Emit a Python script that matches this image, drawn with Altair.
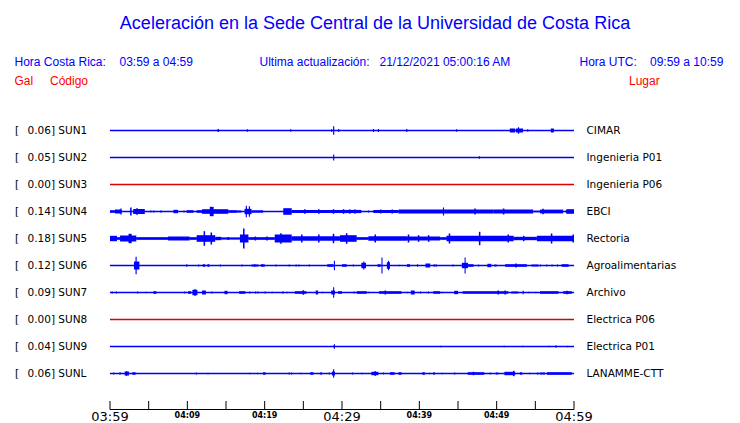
import altair as alt
import pandas as pd

# ---------------- data ----------------
CODES = ["SUN1", "SUN2", "SUN3", "SUN4", "SUN5", "SUN6", "SUN7", "SUN8", "SUN9", "SUNL"]
PLACES = ["CIMAR", "Ingenieria P01", "Ingenieria P06", "EBCI", "Rectoria",
          "Agroalimentarias", "Archivo", "Electrica P06", "Electrica P01", "LANAMME-CTT"]
PEAK_GAL = [0.06, 0.05, 0.00, 0.14, 0.18, 0.12, 0.09, 0.00, 0.04, 0.06]

# signal bursts: (start minute, end minute, half-amplitude in trace display units)
SUN1 = [(13.9, 14.1, 1.5), (17.7, 17.8, 1.2), (23.3, 23.4, 1.2), (28.6, 28.7, 1.5),
        (28.85, 29.0, 4.3), (29.5, 29.6, 1.5), (34.0, 34.1, 1.5), (34.65, 34.75, 1.5),
        (38.3, 38.45, 1.5), (44.75, 44.85, 1.2), (51.7, 52.4, 2.0), (52.5, 53.4, 2.0),
        (52.75, 52.9, 3.3), (53.95, 54.05, 1.2), (57.0, 57.4, 2.0)]
SUN2 = [(28.85, 29.0, 3.0), (47.7, 47.8, 1.3)]
SUN3 = []
SUN4 = [(0.0, 0.65, 1.3), (0.65, 1.5, 2.0), (1.34, 1.5, 3.0), (2.6, 2.8, 4.0), (3.0, 4.5, 2.5),
        (3.4, 3.6, 3.3), (5.2, 5.3, 1.0), (5.6, 5.7, 1.0), (6.5, 6.7, 1.0), (8.2, 8.8, 1.7),
        (9.5, 9.6, 1.0), (9.9, 10.8, 1.3), (11.2, 11.9, 1.3), (11.9, 15.3, 2.3), (12.9, 13.4, 4.7),
        (15.3, 16.4, 1.3), (16.4, 17.0, 1.0), (17.4, 18.3, 2.7), (17.55, 17.7, 5.7),
        (17.95, 18.1, 5.3), (18.3, 19.8, 1.2), (22.4, 23.5, 3.3), (23.5, 30.4, 1.6),
        (25.1, 25.3, 2.3), (26.9, 27.1, 2.3), (28.8, 29.0, 2.3), (30.1, 30.3, 2.3),
        (30.4, 32.5, 1.6), (30.95, 31.1, 2.3), (31.6, 31.75, 2.3), (33.35, 33.5, 1.0),
        (34.05, 37.3, 1.5), (34.9, 35.1, 2.0), (36.4, 36.6, 2.0), (37.3, 43.1, 2.1),
        (43.05, 43.2, 4.0), (43.2, 49.6, 1.9), (47.1, 47.3, 3.0), (49.6, 54.7, 1.9),
        (50.8, 51.0, 3.0), (54.7, 55.6, 0.8), (55.6, 58.6, 1.9), (55.9, 56.1, 2.7),
        (58.9, 59.0, 1.0), (59.0, 60.0, 2.3)]
SUN5 = [(0.0, 0.9, 2.7), (0.9, 1.3, 1.3), (1.3, 3.4, 3.0), (2.4, 2.8, 4.7), (3.4, 7.5, 1.3),
        (7.5, 10.3, 2.0), (10.3, 11.2, 1.3), (11.2, 13.6, 3.3), (12.1, 12.3, 7.3),
        (13.0, 13.2, 6.0), (13.6, 14.4, 1.7), (14.4, 16.8, 1.0), (15.2, 15.4, 1.5),
        (16.8, 17.9, 4.0), (17.2, 17.4, 10.0), (17.9, 21.3, 1.3), (18.7, 18.9, 2.0),
        (20.2, 20.4, 2.0), (21.3, 23.5, 4.0), (22.0, 22.2, 5.3), (23.5, 29.74, 2.3),
        (24.7, 24.9, 4.0), (26.9, 27.1, 4.0), (28.8, 29.0, 4.7), (29.74, 31.9, 3.3),
        (30.5, 30.7, 5.3), (31.9, 33.4, 1.3), (33.4, 38.4, 2.3), (34.2, 34.4, 4.0),
        (38.4, 42.7, 2.0), (38.5, 38.7, 4.0), (39.8, 40.0, 3.3), (41.1, 41.3, 3.3),
        (42.7, 43.5, 1.3), (43.5, 52.2, 2.7), (43.8, 44.0, 5.0), (47.7, 47.9, 6.7),
        (51.4, 51.6, 4.0), (52.2, 55.2, 1.7), (53.4, 53.6, 2.7), (55.2, 60.0, 2.7),
        (57.0, 57.2, 5.0), (59.8, 60.0, 4.0)]
SUN6 = [(3.1, 3.8, 4.0), (3.3, 3.45, 8.7), (9.85, 10.0, 1.3), (11.4, 11.5, 1.0), (12.0, 12.3, 1.3),
        (12.6, 12.85, 1.3), (14.2, 14.3, 1.0), (17.0, 17.1, 1.0), (18.3, 19.2, 1.0),
        (18.65, 18.8, 1.3), (19.5, 20.0, 1.3), (21.4, 21.5, 1.0), (23.1, 23.2, 1.0),
        (24.0, 24.1, 1.0), (24.35, 24.45, 1.0), (25.7, 25.8, 1.0), (28.1, 28.9, 1.3),
        (28.95, 29.05, 4.7), (30.0, 30.6, 1.3), (31.4, 31.5, 1.0), (32.5, 33.1, 2.7),
        (32.75, 32.9, 4.0), (34.6, 35.0, 1.3), (35.1, 35.17, 8.0), (35.8, 36.2, 3.3),
        (35.95, 36.05, 4.7), (37.3, 37.4, 0.8), (38.4, 38.8, 1.3), (39.7, 39.8, 1.3),
        (40.8, 41.4, 2.0), (41.85, 41.95, 1.3), (42.1, 42.2, 1.3), (44.3, 44.4, 1.0),
        (45.5, 46.3, 2.7), (45.85, 45.95, 8.0), (46.3, 47.0, 1.3), (47.6, 47.7, 1.0),
        (48.8, 49.3, 1.7), (49.7, 50.0, 1.0), (51.1, 53.9, 1.3), (52.4, 52.6, 2.0),
        (54.5, 55.4, 1.0), (55.6, 55.7, 1.0), (56.4, 56.5, 1.0), (57.1, 57.2, 1.0),
        (57.8, 57.9, 1.0), (58.4, 59.3, 1.3)]
SUN7 = [(0.2, 0.35, 1.0), (0.75, 0.9, 1.0), (3.5, 3.6, 1.0), (4.6, 4.7, 0.8), (5.6, 6.0, 1.3),
        (9.6, 9.7, 1.0), (10.1, 10.5, 1.3), (10.65, 11.3, 2.7), (10.9, 11.1, 3.3),
        (11.9, 12.4, 2.0), (13.1, 13.2, 1.0), (14.8, 15.2, 1.7), (16.7, 17.5, 1.3),
        (18.0, 18.1, 1.0), (18.75, 18.85, 1.0), (19.05, 19.15, 1.0), (20.0, 20.1, 1.0),
        (20.9, 21.0, 0.7), (22.3, 22.4, 1.3), (22.85, 22.95, 0.7), (23.9, 25.4, 1.3),
        (24.9, 25.1, 2.3), (26.6, 26.9, 2.0), (27.4, 27.5, 0.7), (28.6, 29.1, 2.0),
        (28.85, 28.95, 5.3), (29.5, 30.0, 1.3), (31.5, 31.6, 1.0), (31.9, 33.2, 1.3),
        (33.4, 33.5, 0.7), (34.8, 37.7, 1.3), (35.5, 35.7, 2.0), (38.4, 38.5, 0.7),
        (38.9, 39.4, 2.0), (40.1, 40.2, 1.0), (41.1, 41.2, 1.0), (41.8, 42.7, 1.3),
        (42.9, 43.0, 0.7), (44.5, 45.0, 1.7), (45.6, 51.5, 1.3), (50.1, 50.3, 2.0),
        (51.0, 51.2, 2.0), (51.9, 52.8, 1.0), (53.35, 53.5, 1.7), (54.1, 54.2, 0.7),
        (55.0, 55.1, 0.7), (55.6, 58.0, 1.3), (58.6, 59.7, 1.3), (59.0, 59.2, 1.7)]
SUN8 = []
SUN9 = [(28.9, 29.05, 1.3), (28.95, 29.02, 2.3), (42.7, 42.8, 0.8), (50.9, 51.0, 0.8),
        (53.3, 53.4, 0.8), (56.7, 56.8, 0.8), (57.6, 57.7, 1.3), (59.1, 59.2, 0.8)]
SUNL = [(0.4, 0.5, 1.0), (1.2, 1.4, 1.0), (1.9, 2.45, 2.0), (2.05, 2.2, 2.3), (2.9, 3.3, 1.3),
        (11.1, 11.2, 1.0), (12.6, 12.7, 0.7), (18.0, 18.1, 0.7), (19.0, 19.1, 0.7),
        (19.8, 20.1, 1.3), (23.1, 23.2, 1.0), (23.4, 23.5, 1.0), (24.6, 24.7, 0.7),
        (25.9, 26.3, 1.3), (27.2, 27.4, 1.3), (28.3, 28.4, 1.0), (28.7, 29.1, 2.0),
        (28.85, 28.95, 4.3), (31.3, 31.4, 1.0), (32.5, 32.6, 0.7), (33.8, 34.7, 1.7),
        (34.2, 34.4, 2.3), (35.3, 35.4, 1.0), (36.2, 36.8, 1.3), (37.3, 37.7, 1.3),
        (40.4, 40.7, 1.3), (41.25, 41.35, 0.7), (41.8, 42.0, 1.3), (42.9, 43.0, 0.7),
        (44.5, 44.6, 1.0), (46.25, 48.4, 1.3), (46.9, 47.1, 1.7), (49.1, 49.2, 1.0),
        (49.9, 50.2, 1.0), (51.0, 52.4, 1.7), (52.1, 52.3, 2.7), (53.0, 53.3, 1.3),
        (54.2, 54.3, 0.7), (55.2, 55.4, 1.0), (55.6, 56.25, 1.0), (56.5, 59.7, 1.3)]

TICK_MIN = [0, 5, 10, 15, 20, 25, 30, 35, 40, 45, 50, 55, 60]
LABEL_MIN = [0, 10, 20, 30, 40, 50, 60]
LABEL_TXT = ["03:59", "04:09", "04:19", "04:29", "04:39", "04:49", "04:59"]
LABEL_MAJOR = [True, False, False, True, False, False, True]

TITLE = "Aceleración en la Sede Central de la Universidad de Costa Rica"

# ---------------- tables ----------------
BLUE = "#0000ff"
RED = "#dd0000"
ROW_UNITS = 27.0  # display units between two traces

stations = pd.DataFrame({
    "row": list(range(len(CODES))),
    "code": CODES,
    "place": PLACES,
    "peak": PEAK_GAL,
})
stations["left"] = [f"{p:.2f}] {c}" for p, c in zip(PEAK_GAL, CODES)]
stations["color"] = [RED if p == 0 else BLUE for p in PEAK_GAL]
stations["t0"] = 0
stations["t1"] = 60

all_events = [SUN1, SUN2, SUN3, SUN4, SUN5, SUN6, SUN7, SUN8, SUN9, SUNL]
rows = []
for i, evs in enumerate(all_events):
    for (a, b, amp) in evs:
        b = max(b, a + 0.14)
        rows.append({"row": i, "t0": a, "t1": b,
                     "lo": i - amp / ROW_UNITS, "hi": i + amp / ROW_UNITS})
events = pd.DataFrame(rows)

ticks = pd.DataFrame({"t": TICK_MIN})
labels = pd.DataFrame({"t": LABEL_MIN, "txt": LABEL_TXT, "major": LABEL_MAJOR})
axis_line = pd.DataFrame({"t0": [0], "t1": [60]})

X = alt.Scale(domain=[0, 60], range=[102, 566])
Y = alt.Scale(domain=[0, 9], range=[122.5, 365.5])

base_lines = alt.Chart(stations).mark_rule(strokeWidth=1.3).encode(
    x=alt.X("t0:Q", scale=X, axis=None),
    x2="t1:Q",
    y=alt.Y("row:Q", scale=Y, axis=None),
    color=alt.Color("color:N", scale=None),
)

bursts = alt.Chart(events).mark_rect(color=BLUE).encode(
    x=alt.X("t0:Q", scale=X, axis=None),
    x2="t1:Q",
    y=alt.Y("lo:Q", scale=Y, axis=None),
    y2="hi:Q",
)

lab_font = "DejaVu Sans"
bracket = alt.Chart(stations).mark_text(align="left", baseline="middle", fontSize=10.5,
                                        font=lab_font, color="black").encode(
    x=alt.value(7), y=alt.Y("row:Q", scale=Y, axis=None), text=alt.value("[")
)
left_lab = alt.Chart(stations).mark_text(align="left", baseline="middle", fontSize=10.5,
                                         font=lab_font, color="black").encode(
    x=alt.value(19.5), y=alt.Y("row:Q", scale=Y, axis=None), text="left:N"
)
right_lab = alt.Chart(stations).mark_text(align="left", baseline="middle", fontSize=10.5,
                                          font=lab_font, color="black").encode(
    x=alt.value(578.5), y=alt.Y("row:Q", scale=Y, axis=None), text="place:N"
)

hfont = "Liberation Sans"


def htext(txt, x, y, size=12, color=BLUE, align="left"):
    return alt.Chart(stations.head(1)).mark_text(
        align=align, baseline="middle", fontSize=size, font=hfont, color=color
    ).encode(x=alt.value(x), y=alt.value(y), text=alt.value(txt))


header = [
    htext(TITLE, 367, 15.5, size=18, align="center"),
    htext("Hora Costa Rica:", 6.5, 54),
    htext("03:59 a 04:59", 111.5, 54),
    htext("Ultima actualización:", 251.5, 54),
    htext("21/12/2021 05:00:16 AM", 371.5, 54),
    htext("Hora UTC:", 571.5, 54),
    htext("09:59 a 10:59", 642, 54),
    htext("Gal", 6.5, 73, color="#ff0000"),
    htext("Código", 42, 73, color="#ff0000"),
    htext("Lugar", 621, 73, color="#ff0000"),
]

axis_rule = alt.Chart(axis_line).mark_rule(color="black", strokeWidth=1).encode(
    x=alt.X("t0:Q", scale=X, axis=None), x2="t1:Q", y=alt.value(401.5)
)
tick_marks = alt.Chart(ticks).mark_rule(color="black", strokeWidth=1).encode(
    x=alt.X("t:Q", scale=X, axis=None), y=alt.value(393), y2=alt.value(401.5)
)
major_lab = alt.Chart(labels).transform_filter("datum.major").mark_text(
    align="center", baseline="middle", fontSize=13, font=lab_font, color="black"
).encode(x=alt.X("t:Q", scale=X, axis=None), y=alt.value(408.5), text="txt:N")
minor_lab = alt.Chart(labels).transform_filter("!datum.major").mark_text(
    align="center", baseline="middle", fontSize=8, fontWeight="bold", font=lab_font,
    color="black"
).encode(x=alt.X("t:Q", scale=X, axis=None), y=alt.value(407.5), text="txt:N")

chart = alt.layer(
    base_lines, bursts, bracket, left_lab, right_lab, *header,
    axis_rule, tick_marks, major_lab, minor_lab
).properties(
    width=724, height=415,
    autosize=alt.AutoSizeParams(type="none"),
    padding=0,
    background="white",
).configure_view(strokeWidth=0)

chart.save("out.html", embed_options={"renderer": "svg", "actions": False})
